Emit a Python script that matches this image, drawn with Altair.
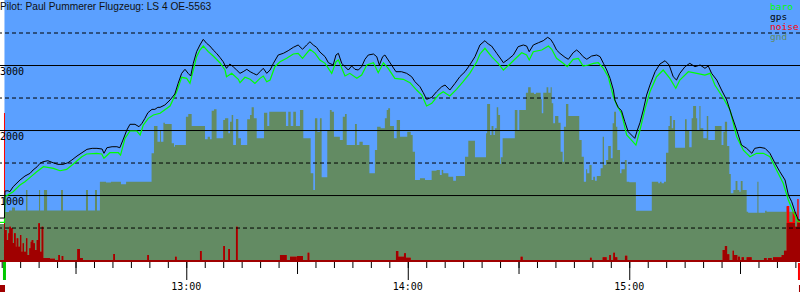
import altair as alt
import pandas as pd

TITLE = "Pilot: Paul Pummerer Flugzeug: LS 4 OE-5563"

# time in minutes after 12:00, altitude in metres
gps_t = [9.5, 10.75, 10.9, 11.7, 12.2, 13.1, 14.95, 16.3, 17.7, 18.5,
         19.6, 20.4, 21.2, 22.5, 23.9, 25.2, 26.6, 27.95, 29.0, 30.4,
         31.75, 33.1, 34.5, 35.8, 37.2, 37.7, 38.5, 39.9, 41.2, 42.0,
         42.85, 43.9, 44.75, 46.1, 47.2, 48.0, 48.8, 49.6, 50.7, 51.5,
         52.3, 52.9, 54.2, 55.6, 56.9, 57.8, 58.75, 59.65, 60.5, 61.2,
         61.9, 62.8, 63.7, 64.6, 65.5, 66.4, 67.3, 68.2, 69.1, 70.0,
         70.9, 71.8, 72.7, 73.65, 74.55, 75.4, 76.4, 77.3, 78.15, 79.1,
         79.96, 80.86, 81.8, 82.7, 83.6, 84.9, 86.3, 87.6, 89.0, 90.3,
         91.5, 92.6, 93.5, 94.4, 95.3, 96.2, 97.6, 98.5, 99.8, 100.55,
         101.2, 102.1, 103.0, 103.9, 104.8, 105.7, 106.6, 107.5, 108.4, 109.3,
         110.7, 111.6, 112.3, 113.2, 113.8, 114.7, 115.6, 116.8, 118.3, 119.7,
         121.05, 121.95, 123.3, 124.2, 125.1, 126.5, 127.8, 129.2, 130.1, 131.4,
         132.8, 134.1, 135.5, 136.8, 138.2, 139.55, 140.9, 141.8, 142.7, 144.1,
         145.4, 145.9, 147.2, 148.6, 149.9, 151.3, 152.2, 152.9, 154.0, 155.4,
         156.7, 157.9, 158.7, 159.4, 160.3, 161.2, 162.6, 163.5, 164.8, 165.75,
         166.6, 167.5, 168.5, 169.8, 171.2, 172.1, 173.0, 173.9, 174.8, 175.7,
         176.1, 177.0, 177.9, 178.8, 179.7, 180.6, 181.5, 182.2, 182.9, 183.8,
         184.7, 185.6, 187.0, 188.3, 189.7, 190.8, 191.9, 192.8, 193.7, 195.1,
         196.4, 197.8, 199.2, 200.5, 201.4, 202.3, 203.7, 205.0, 206.4, 207.7,
         209.1, 210.4, 211.8, 213.2, 214.0, 215.4, 216.8, 218.1, 219.5, 220.8,
         222.2, 223.1, 224.0, 224.9, 225.8, 226.25]
gps_alt = [646, 646, 1062, 1066, 1051, 1128, 1231, 1292, 1334, 1385,
           1435, 1488, 1512, 1528, 1497, 1472, 1472, 1497, 1538, 1600,
           1651, 1703, 1718, 1718, 1708, 1642, 1728, 1743, 1743, 1728,
           1846, 2000, 2088, 2088, 2051, 2103, 2180, 2266, 2318, 2318,
           2349, 2349, 2385, 2462, 2554, 2718, 2872, 2934, 2872, 2831,
           3026, 3205, 3308, 3395, 3334, 3292, 3231, 3180, 3118, 3051,
           2949, 3015, 2974, 2923, 2872, 2897, 2934, 2897, 2872, 2846,
           2897, 2949, 2872, 2923, 3026, 3154, 3180, 3220, 3272, 3308,
           3242, 3308, 3358, 3308, 3272, 3200, 3128, 3035, 3000, 3154,
           3180, 3026, 2974, 2923, 2985, 2934, 2923, 2974, 3088, 3154,
           3169, 3128, 3000, 3128, 3154, 3077, 3000, 2897, 2897, 2872,
           2820, 2743, 2666, 2574, 2472, 2503, 2589, 2666, 2692, 2615,
           2718, 2820, 2897, 3000, 3128, 3308, 3374, 3323, 3292, 3180,
           3077, 3035, 3088, 3154, 3282, 3308, 3292, 3205, 3308, 3343,
           3374, 3426, 3395, 3334, 3231, 3180, 3118, 3088, 3189, 3231,
           3189, 3128, 3088, 3138, 3154, 3128, 3026, 2923, 2795, 2615,
           2462, 2349, 2297, 2128, 1974, 1923, 1872, 2000, 2112, 2308,
           2538, 2692, 2897, 3015, 3066, 3000, 2820, 2769, 2872, 2974,
           3026, 2974, 3000, 2949, 2985, 2872, 2769, 2615, 2462, 2231,
           2000, 1769, 1718, 1642, 1718, 1734, 1718, 1642, 1488, 1358,
           1231, 1000, 897, 743, 615, 615]

baro_t = [9.5, 10.75, 10.9, 11.2, 13.1, 14.95, 16.3, 17.7, 19.5, 21.3,
          24.0, 25.8, 27.6, 29.4, 31.7, 33.0, 35.7, 37.1, 37.7, 39.3,
          41.6, 42.2, 43.4, 44.75, 46.6, 47.5, 48.35, 49.7, 51.1, 52.9,
          55.6, 57.4, 58.75, 60.1, 61.0, 61.9, 62.8, 63.7, 64.6, 65.96,
          67.3, 69.1, 70.5, 70.9, 72.3, 74.1, 74.55, 75.9, 77.3, 78.6,
          79.96, 80.86, 81.8, 82.7, 84.0, 85.4, 87.2, 89.0, 90.3, 91.5,
          92.6, 93.5, 94.9, 96.2, 97.6, 99.4, 100.55, 101.2, 103.0, 104.3,
          106.2, 107.5, 108.9, 110.7, 112.0, 113.4, 114.7, 116.5, 118.8, 120.6,
          122.4, 123.8, 125.1, 126.5, 128.3, 129.6, 131.4, 133.2, 135.0, 136.8,
          138.7, 139.55, 140.9, 142.7, 144.5, 145.9, 147.7, 149.0, 150.85, 152.2,
          152.9, 154.0, 156.3, 158.1, 159.0, 160.3, 162.1, 163.2, 164.8, 166.2,
          167.5, 168.9, 170.3, 171.6, 173.0, 174.3, 175.7, 176.6, 177.9, 179.3,
          180.6, 181.8, 182.9, 184.3, 185.6, 187.4, 189.2, 191.0, 192.6, 193.7,
          196.0, 198.3, 200.5, 201.9, 203.2, 205.5, 207.3, 209.1, 210.9, 212.7,
          214.5, 216.3, 218.1, 219.9, 221.7, 223.1, 224.4, 225.8, 226.25]
baro_alt = [580, 580, 974, 985, 1051, 1154, 1205, 1272, 1358, 1435,
            1410, 1374, 1395, 1477, 1589, 1631, 1642, 1631, 1565, 1651,
            1651, 1615, 1872, 1985, 1985, 1923, 2077, 2180, 2231, 2257,
            2369, 2589, 2811, 2795, 2718, 2923, 3128, 3231, 3292, 3205,
            3138, 3035, 2923, 2820, 2872, 2780, 2728, 2811, 2780, 2718,
            2795, 2831, 2743, 2769, 2974, 3051, 3103, 3169, 3180, 3103,
            3180, 3242, 3180, 3077, 3026, 2872, 3051, 3077, 2831, 2872,
            2795, 2846, 3000, 3035, 2882, 3035, 2949, 2795, 2780, 2728,
            2615, 2538, 2369, 2410, 2538, 2589, 2523, 2626, 2743, 2872,
            3051, 3170, 3257, 3128, 3026, 2923, 3015, 3088, 3189, 3154,
            3077, 3205, 3231, 3292, 3242, 3103, 3026, 2974, 3088, 3103,
            2985, 3000, 3026, 3035, 2949, 2820, 2512, 2385, 2257, 1923,
            1846, 1769, 2000, 2334, 2589, 2820, 2923, 2795, 2641, 2769,
            2897, 2872, 2846, 2872, 2692, 2488, 2308, 1897, 1692, 1589,
            1642, 1642, 1589, 1385, 1180, 923, 743, 589, 589]

gnd_t = [9.5, 10.75, 11.97, 12.8, 13.6, 16.58, 16.98, 20.1, 20.4, 21.45,
         22.3, 26.06, 26.6, 32.83, 33.37, 35.27, 35.81, 36.6, 38.25, 39.6,
         42.3, 43.7, 50.6, 51.25, 52.2, 52.9, 53.15, 53.8, 54.2, 56.05,
         56.67, 56.94, 59.9, 60.54, 61.46, 65.07, 65.8, 66.4, 66.88, 67.5,
         68.2, 70.0, 70.5, 71.38, 71.84, 72.3, 72.7, 73.46, 74.1, 74.8,
         76.5, 77.26, 77.7, 78.3, 79.07, 81.05, 81.94, 82.48, 87.0, 87.63,
         88.28, 88.99, 89.7, 90.8, 91.7, 93.7, 94.4, 94.86, 95.5, 96.2,
         96.67, 98.2, 98.9, 99.38, 100.0, 101.6, 102.4, 103.0, 103.45, 105.7,
         106.2, 106.9, 107.8, 109.6, 111.1, 111.7, 112.65, 113.8, 114.3, 114.7,
         115.2, 116.26, 117.0, 117.9, 119.86, 120.8, 121.33, 121.95, 123.3, 124.66,
         126.47, 127.8, 128.7, 129.2, 129.6, 131.0, 132.3, 133.05, 135.5, 136.4,
         138.2, 141.2, 141.5, 142.3, 142.7, 143.2, 143.6, 144.1, 144.5, 145.0,
         145.2, 145.7, 149.0, 149.7, 150.2, 152.0, 152.6, 153.3, 154.2, 154.7,
         156.0, 156.3, 156.7, 157.6, 158.06, 158.7, 159.0, 159.4, 159.9, 160.8,
         161.4, 161.96, 162.3, 162.86, 163.5, 166.45, 167.1, 167.7, 168.3, 168.6,
         169.2, 169.8, 170.25, 170.7, 171.2, 172.25, 172.8, 173.15, 173.7, 174.3,
         175.0, 175.5, 175.9, 176.4, 176.75, 177.5, 177.9, 178.8, 179.3, 180.0,
         181.8, 186.1, 187.85, 188.3, 188.75, 189.4, 189.95, 190.6, 191.0, 191.5,
         191.9, 192.4, 195.1, 195.55, 196.25, 196.9, 197.3, 198.1, 198.4, 199.0,
         199.3, 200.05, 201.0, 201.4, 203.2, 205.0, 205.5, 205.9, 206.5, 207.1,
         207.5, 208.2, 208.8, 209.3, 209.8, 210.2, 210.7, 211.8, 212.2, 214.7,
         215.0, 216.8, 217.2, 222.6, 223.1, 225.3, 226.25]
gnd_alt = [554, 738, 762, 808, 762, 1077, 762, 1077, 762, 1077,
           762, 1077, 762, 1077, 762, 1077, 762, 1205, 1192, 1205,
           1165, 1205, 1642, 2062, 1820, 2000, 1820, 2112, 2092, 1795,
           1743, 1769, 2205, 2246, 2062, 1857, 1897, 1857, 2297, 2318,
           1872, 2154, 2180, 1949, 2128, 2231, 1769, 2169, 1872, 1769,
           2165, 2231, 2349, 2180, 1872, 2266, 2062, 2282, 2062, 2282,
           2062, 2282, 2062, 2308, 1872, 1334, 1077, 2180, 1974, 2180,
           1272, 2000, 2308, 2282, 1897, 1846, 2205, 2246, 1769, 2092,
           1769, 1820, 1769, 1334, 1692, 2051, 2026, 2180, 2308, 2334,
           2062, 1872, 2154, 1897, 1974, 1923, 1666, 1231, 1257, 1231,
           1374, 1385, 1308, 1385, 1334, 1282, 1220, 1292, 1589, 1835,
           1580, 1949, 2400, 1923, 2062, 1923, 2026, 2349, 2231, 1477,
           1580, 1872, 2308, 2000, 2308, 2574, 2657, 2574, 2554, 2574,
           2472, 2257, 2574, 2657, 2574, 2657, 2411, 2103, 2215, 2112,
           1666, 1512, 2051, 2400, 2215, 1846, 1589, 1205, 1395, 1334,
           1462, 1231, 1282, 1220, 1292, 1411, 1897, 1462, 1538, 1754,
           1565, 2103, 2282, 2051, 1692, 1334, 1395, 1538, 1205, 1195,
           758, 1205, 1180, 1205, 1180, 1205, 1651, 2062, 2215, 2026,
           2154, 1728, 2165, 2000, 1734, 2180, 2369, 2180, 2000, 2369,
           2026, 1872, 2215, 1846, 2062, 1769, 1974, 2128, 1754, 1323,
           1026, 1077, 1215, 1077, 1051, 1215, 1077, 743, 728, 1205,
           728, 758, 743, 820, 743, 626, 626]

noise_start = [10.62, 10.89, 11.35, 11.78, 12.05, 12.51, 12.97, 13.33, 13.79, 14.06,
               14.49, 14.95, 15.30, 15.68, 16.04, 16.58, 16.93, 17.47, 17.85, 18.12,
               18.56, 19.02, 19.48, 19.91, 20.37, 20.83, 21.26, 23.08, 25.33, 26.25,
               30.47, 31.2, 40.23, 49.43, 56.94, 63.71, 70.02, 71.38, 73.46, 85.38,
               88.09, 89.98, 92.88, 116.8, 117.43, 118.97, 119.51, 150.58, 169.35, 172.8,
               174.58, 175.67, 176.13, 178.83, 205.3, 205.9, 206.5, 208.0, 208.36, 209.44,
               210.44, 211.8, 216.49, 217.57, 218.93, 221.28, 221.91, 222.64, 223.34, 224.26,
               224.89, 225.51, 225.89]
noise_end = [10.89, 11.35, 11.78, 12.05, 12.51, 12.97, 13.33, 13.79, 14.06, 14.49,
             14.95, 15.30, 15.68, 16.04, 16.58, 16.93, 17.47, 17.85, 18.12, 18.56,
             19.02, 19.48, 19.91, 20.37, 20.83, 21.26, 23.08, 24.43, 25.79, 26.68,
             31.2, 32.0, 40.69, 49.9, 57.4, 64.17, 70.48, 71.84, 73.92, 87.2,
             89.9, 91.61, 93.32, 117.43, 118.97, 119.51, 120.78, 151.12, 169.81, 173.87,
             175.04, 176.13, 176.75, 179.45, 205.9, 206.5, 207.09, 208.36, 209.26, 209.98,
             211.07, 213.15, 217.22, 218.57, 221.28, 221.91, 222.64, 223.34, 224.26, 224.89,
             225.51, 225.89, 226.25]
noise_val = [2262, 462, 308, 411, 512, 488, 262, 411, 205, 334,
             205, 385, 128, 257, 128, 334, 77, 180, 282, 308,
             257, 154, 308, 565, 128, 512, 31, 20, 77, 62,
             169, 31, 92, 77, 51, 138, 215, 169, 512, 77,
             51, 62, 112, 138, 51, 103, 35, 51, 35, 42,
             77, 112, 42, 66, 154, 215, 88, 143, 77, 51,
             42, 42, 31, 31, 42, 77, 143, 831, 585, 743,
             512, 938, 615]

grid_solid = [1000, 2000, 3000]
grid_dashed = [500, 1500, 2500, 3500]
y_labels = ["1000", "2000", "3000"]
minor_ticks = [10, 15, 20, 25, 30, 35, 40, 45, 50, 55, 60, 65, 70, 75, 80, 85, 90,
               95, 100, 105, 110, 115, 120, 125, 130, 135, 140, 145, 150, 155, 160,
               165, 170, 175, 180, 185, 190, 195, 200, 205, 210, 215, 220, 225]
half_ticks = [30, 90, 150, 210]
hour_ticks = [60, 120, 180]
hour_labels = ["13:00", "14:00", "15:00"]
legend_names = ["baro", "gps", "noise", "gnd"]
takeoff_t = 10.75
landing_t = 225.97
start_box = [9.54, 10.9]
end_box = [225.97, 226.25]

X_MIN, X_MAX = 9.54, 226.25
Y_MIN, Y_MAX = -30, 4000
NOISE_CAP = 570

SKY = "#5ba0ff"
GND = "#638b63"
NOISE_DARK = "#a00000"
NOISE_RED = "#ff0000"
BARO = "#00ff00"
GPS = "#000000"
legend_colors = [BARO, GPS, NOISE_RED, GND]
MONO = "DejaVu Sans Mono"

xs = alt.Scale(domain=[X_MIN, X_MAX], nice=False, zero=False)
ys = alt.Scale(domain=[Y_MIN, Y_MAX], nice=False, zero=False)


def X(field):
    return alt.X(field, scale=xs, axis=None)


def Y(field):
    return alt.Y(field, scale=ys, axis=None)


gps_df = pd.DataFrame(list(zip(gps_t, gps_alt)), columns=["t", "alt"])
baro_df = pd.DataFrame(list(zip(baro_t, baro_alt)), columns=["t", "alt"])
gnd_df = pd.DataFrame(list(zip(gnd_t, gnd_alt)), columns=["t", "alt"])
gnd_df["base"] = float(Y_MIN)

# noise as step profile
pts = [(X_MIN, 0.0)]
n = len(noise_val)
for k, (s, e, v) in enumerate(zip(noise_start, noise_end, noise_val)):
    pts.append((s, float(v)))
    if k + 1 < n and abs(noise_start[k + 1] - e) < 1e-6:
        continue
    pts.append((e, 0.0))
noise_df = pd.DataFrame(pts, columns=["t", "v"])
noise_df["vd"] = noise_df["v"].clip(upper=NOISE_CAP)
noise_df["base"] = float(Y_MIN)

sky_df = pd.DataFrame({"t0": [takeoff_t], "t1": [X_MAX], "a0": [Y_MIN], "a1": [Y_MAX]})

sky = alt.Chart(sky_df).mark_rect(color=SKY).encode(
    x=X("t0:Q"), x2="t1:Q", y=Y("a0:Q"), y2="a1:Q"
)

gnd = alt.Chart(gnd_df).mark_area(interpolate="step-after", color=GND, opacity=1).encode(
    x=X("t:Q"), y=Y("alt:Q"), y2=alt.Y2("base:Q")
)

noise_hi = alt.Chart(noise_df).mark_area(interpolate="step-after", color=NOISE_RED, opacity=1).encode(
    x=X("t:Q"), y=Y("v:Q"), y2=alt.Y2("base:Q")
)
noise_lo = alt.Chart(noise_df).mark_area(interpolate="step-after", color=NOISE_DARK, opacity=1).encode(
    x=X("t:Q"), y=Y("vd:Q"), y2=alt.Y2("base:Q")
)

grid_s = alt.Chart(pd.DataFrame({"v": grid_solid})).mark_rule(
    color="black", strokeWidth=1, yOffset=0.5
).encode(y=Y("v:Q"))
grid_d = alt.Chart(pd.DataFrame({"v": grid_dashed})).mark_rule(
    color="black", strokeWidth=1, strokeDash=[4, 3], yOffset=0.5
).encode(y=Y("v:Q"))

ylab = alt.Chart(pd.DataFrame({"v": grid_solid, "lbl": y_labels})).mark_text(
    align="left", baseline="alphabetic", dy=10, font=MONO, fontSize=10, color="black"
).encode(x=alt.value(0), y=Y("v:Q"), text="lbl:N")

baro = alt.Chart(baro_df).mark_line(color=BARO, strokeWidth=1.2).encode(
    x=X("t:Q"), y=Y("alt:Q")
)
gps = alt.Chart(gps_df).mark_line(color=GPS, strokeWidth=1).encode(
    x=X("t:Q"), y=Y("alt:Q")
)

title = alt.Chart(pd.DataFrame({"s": [TITLE]})).mark_text(
    align="left", baseline="alphabetic", font="Liberation Sans", fontSize=10.2, color="#111111"
).encode(x=alt.value(0), y=alt.value(10), text="s:N")

legend_layers = []
for k, (nm, col) in enumerate(zip(legend_names, legend_colors)):
    legend_layers.append(
        alt.Chart(pd.DataFrame({"s": [nm]})).mark_text(
            align="left", baseline="alphabetic", font=MONO, fontSize=9.5, color=col
        ).encode(x=alt.value(770), y=alt.value(10 + 10 * k), text="s:N")
    )

minor_r = alt.Chart(pd.DataFrame({"t": minor_ticks})).mark_rule(color="black", xOffset=0.5).encode(
    x=X("t:Q"), y=alt.value(262), y2=alt.value(268)
)
half_r = alt.Chart(pd.DataFrame({"t": half_ticks})).mark_rule(color="black", xOffset=0.5).encode(
    x=X("t:Q"), y=alt.value(262), y2=alt.value(274)
)
hour_r = alt.Chart(pd.DataFrame({"t": hour_ticks})).mark_rule(color="black", xOffset=0.5).encode(
    x=X("t:Q"), y=alt.value(262), y2=alt.value(280)
)
hour_txt = alt.Chart(pd.DataFrame({"t": hour_ticks, "s": hour_labels})).mark_text(
    align="center", baseline="alphabetic", font=MONO, fontSize=10, color="black"
).encode(x=X("t:Q"), y=alt.value(290), text="s:N")
takeoff = alt.Chart(pd.DataFrame({"t": [takeoff_t]})).mark_rule(color="#00c800", strokeWidth=3).encode(
    x=X("t:Q"), y=alt.value(262), y2=alt.value(280)
)
landing = alt.Chart(pd.DataFrame({"t": [landing_t]})).mark_rule(color=NOISE_RED, strokeWidth=2).encode(
    x=X("t:Q"), y=alt.value(263), y2=alt.value(280)
)
boxes = alt.Chart(pd.DataFrame({"t0": [start_box[0], end_box[0]], "t1": [start_box[1], end_box[1]]})).mark_rect(
    color=NOISE_DARK
).encode(x=X("t0:Q"), x2="t1:Q", y=alt.value(285), y2=alt.value(292))

chart = alt.layer(
    sky, gnd, noise_hi, noise_lo, grid_s, grid_d, ylab, baro, gps, title,
    *legend_layers, minor_r, half_r, hour_r, hour_txt, takeoff, landing, boxes
).properties(
    width=800, height=262,
    autosize=alt.AutoSizeParams(type="none"),
    padding={"left": 0, "top": 0, "right": 0, "bottom": 38},
).configure_view(stroke=None)

chart.save("out.html", embed_options={"renderer": "svg", "actions": False})
